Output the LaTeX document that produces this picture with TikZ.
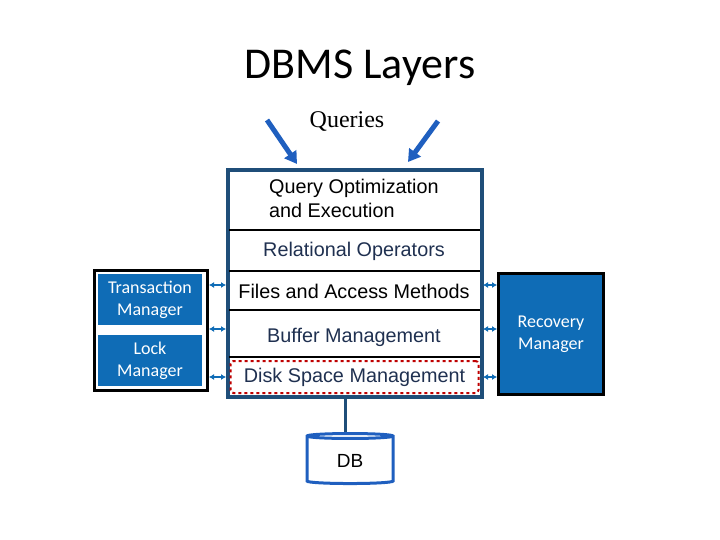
\documentclass[tikz,border=0pt]{standalone}
\usepackage{fontspec}
\setmainfont{Liberation Sans}
\newfontfamily\calib{Carlito}
\newfontfamily\tnr{Liberation Serif}
\usetikzlibrary{arrows.meta,shapes.geometric}
\definecolor{dblue}{HTML}{1F4E79}
\definecolor{mblue}{HTML}{0F6CB6}
\definecolor{cblue}{HTML}{1F5FBF}
\definecolor{txt}{HTML}{1F3050}
\begin{document}
\begin{tikzpicture}[x=1pt,y=-1pt,
  lay/.style={font=\fontsize{19.8}{24}\selectfont, text=txt, inner sep=1pt},
  side/.style={fill=mblue, text=white, font=\calib\fontsize{18}{22}\selectfont, align=center},
  dar/.style={{Latex[length=5pt,width=6pt]}-{Latex[length=5pt,width=6pt]}, mblue, line width=1.8pt},
  qar/.style={-{Triangle[length=12pt,width=14pt]}, cblue, line width=5pt}]
\useasboundingbox (0,0) rectangle (720,540);
\node (title) at (360,68) {\calib\fontsize{44}{50}\selectfont DBMS Layers};
\node (q) at (347,122) {\tnr\fontsize{24}{26}\selectfont Queries};
\coordinate (q1s) at (267,120); \coordinate (q1e) at (297,164);
\coordinate (q2s) at (438,121); \coordinate (q2e) at (408,162);
\draw[qar] (q1s) -- (q1e);
\draw[qar] (q2s) -- (q2e);
% main box
\node[draw=dblue, line width=4pt, minimum width=254pt, minimum height=227pt, inner sep=0] (main) at (354.5,283.5) {};
\draw[line width=1.5pt] (229,230) -- (480,230);
\draw[line width=1.5pt] (229,271) -- (480,271);
\draw[line width=1.5pt] (229,310) -- (480,310);
\draw[line width=1.5pt] (229,357) -- (480,357);
\node[lay, align=left, anchor=west, text=black] (qo) at (268,198) {Query Optimization\\and Execution};
\node[lay] (ro) at (354,251) {Relational Operators};
\node[lay, text=black] (fa) at (354,291) {Files and Access Methods};
\node[lay] (bm) at (354,337) {Buffer Management};
\node[draw=red!75!black, dashed, line width=2pt, rounded corners=3pt, minimum width=248pt, minimum height=32pt, lay] (ds) at (354.5,377) {Disk Space Management};
% left
\node[draw=black, line width=3pt, minimum width=113pt, minimum height=120pt] (lb) at (151,330.5) {};
\node[side, minimum width=104pt, minimum height=51pt] (tm) at (150,299.5) {Transaction\\Manager};
\node[side, minimum width=104pt, minimum height=51pt] (lm) at (150,360.5) {Lock\\Manager};
% right
\node[draw=black, line width=3pt, fill=mblue, text=white, font=\calib\fontsize{18}{22}\selectfont, align=center, minimum width=105pt, minimum height=121pt] (rm) at (551,334) {Recovery\\Manager};
% small arrows
\coordinate (l1) at (209,285); \coordinate (l1b) at (226,285);
\coordinate (l2) at (209,329); \coordinate (l2b) at (226,329);
\coordinate (l3) at (209,377); \coordinate (l3b) at (226,377);
\coordinate (r1) at (483,285); \coordinate (r1b) at (497,285);
\coordinate (r2) at (483,329); \coordinate (r2b) at (497,329);
\coordinate (r3) at (483,377); \coordinate (r3b) at (497,377);
\foreach \a/\b in {l1/l1b,l2/l2b,l3/l3b,r1/r1b,r2/r2b,r3/r3b} \draw[dar] (\a) -- (\b);
% DB
\node[cylinder, shape border rotate=90, draw=cblue, line width=3pt, minimum width=86pt, minimum height=50pt, aspect=0.15, font=\fontsize{19}{22}\selectfont] (db) at (350,461) {DB};
\draw[dblue, line width=3pt] (main.south -| 345,0) -- (db.north -| 345,0);
\end{tikzpicture}
\end{document}
